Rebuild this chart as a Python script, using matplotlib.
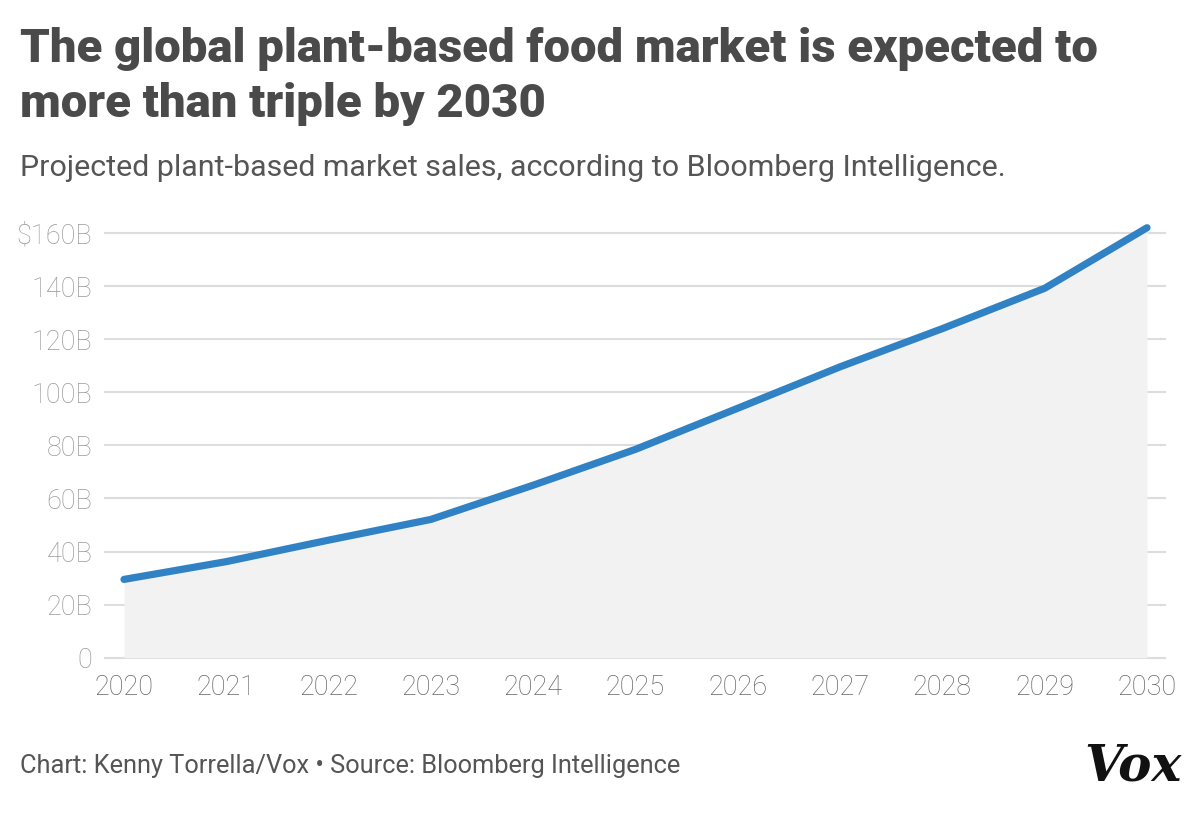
import matplotlib
matplotlib.use("Agg")
import matplotlib.pyplot as plt

years = [2020, 2021, 2022, 2023, 2024, 2025, 2026, 2027, 2028, 2029, 2030]
sales = [29.5, 36.2, 44.3, 52.1, 65.0, 78.5, 94.0, 109.6, 124.0, 139.2, 162.0]
y_ticks = [0, 20, 40, 60, 80, 100, 120, 140, 160]
y_labels = ["0", "20B", "40B", "60B", "80B", "100B", "120B", "140B", "$160B"]
x_labels = [str(y) for y in years]

title = "The global plant-based food market is expected to\nmore than triple by 2030"
subtitle = "Projected plant-based market sales, according to Bloomberg Intelligence."
footer = "Chart: Kenny Torrella/Vox \u2022 Source: Bloomberg Intelligence"

W, H = 1200, 813
fig = plt.figure(figsize=(W / 100, H / 100), dpi=100)
fig.patch.set_facecolor("white")

px_per_b = 2.654
y0 = 657.7
ytop_val = 165
ax_left, ax_right = 105, 1165
ax_top_px = y0 - ytop_val * px_per_b
ax = fig.add_axes([ax_left / W, 1 - y0 / H, (ax_right - ax_left) / W, (y0 - ax_top_px) / H])

ppy = (1147 - 124) / 10
ax.set_xlim(2020 - (124 - ax_left) / ppy, 2030 + (ax_right - 1147) / ppy)
ax.set_ylim(0, ytop_val)

ax.fill_between(years, sales, 0, color="#f2f2f2", zorder=1, linewidth=0)
ax.plot(years, sales, color="#3182c4", linewidth=5.2, solid_capstyle="round",
        solid_joinstyle="round", zorder=3, clip_on=False)

for s in ax.spines.values():
    s.set_visible(False)

ax.set_yticks(y_ticks)
ax.set_yticklabels(y_labels)
ax.set_xticks(years)
ax.set_xticklabels(x_labels)
ax.yaxis.grid(True, color="#dddddd", linewidth=1.5, zorder=0)
for gl in ax.get_ygridlines():
    gl.set_clip_on(False)
ax.set_axisbelow(True)
ax.tick_params(axis="both", length=0)
ax.tick_params(axis="y", pad=9, labelsize=19.5, labelcolor="#9a9a9a")
ax.tick_params(axis="x", pad=12, labelsize=19.5, labelcolor="#666666")
for lab in ax.get_yticklabels() + ax.get_xticklabels():
    lab.set_family("Roboto")
    lab.set_fontweight("light")

fig.text(20 / W, 1 - 27 / H, title, ha="left", va="top", fontsize=34,
         fontweight="black", family="Roboto", color="#4a4a4a", linespacing=1.3)
fig.text(20 / W, 1 - 168 / H, subtitle, ha="left", va="center", fontsize=21.9,
         family="Roboto", fontweight="normal", color="#555555")
fig.text(20 / W, 1 - 766 / H, footer, ha="left", va="center", fontsize=18.3,
         family="Roboto", color="#555555")
fig.text(1182 / W, 1 - 767 / H, "Vox", ha="right", va="center", fontsize=36,
         family="DejaVu Serif", fontweight="bold", fontstyle="italic", color="#111111")

fig.savefig("out.png", dpi=100, facecolor="white")
